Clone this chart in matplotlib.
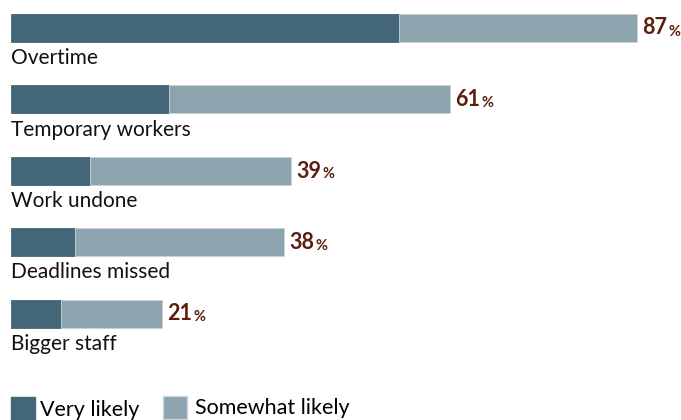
import matplotlib
matplotlib.use("Agg")
import matplotlib.pyplot as plt
from matplotlib.patches import Patch

categories = ["Overtime", "Temporary workers", "Work undone", "Deadlines missed", "Bigger staff"]
very_likely = [54, 22, 11, 9, 7]
totals = [87, 61, 39, 38, 21]
somewhat_likely = [t - v for t, v in zip(totals, very_likely)]
series_names = ["Very likely", "Somewhat likely"]

DARK = "#436678"
LIGHT = "#8da3ad"
EDGE_LIGHT = "#c9d3d8"
LABEL = "#5b1e0f"

plt.rcParams["font.family"] = ["Lato", "DejaVu Sans"]

W, H, DPI = 681, 420, 100
fig = plt.figure(figsize=(W / DPI, H / DPI), dpi=DPI)
ax = fig.add_axes([0, 0, 1, 1])

px_per_pct = 7.2
left_px = 10.5
row_px = 71.5
first_center_px = 27.5
ax.set_xlim(-left_px / px_per_pct, (W - left_px) / px_per_pct)
ax.set_ylim((H - first_center_px) / row_px, -first_center_px / row_px)
ax.axis("off")

ypos = list(range(len(categories)))
bar_h = 28 / row_px
ax.barh(ypos, very_likely, height=bar_h, color=DARK, edgecolor=DARK, linewidth=0.6)
ax.barh(ypos, somewhat_likely, left=very_likely, height=bar_h, color=LIGHT,
        edgecolor=EDGE_LIGHT, linewidth=0.6)

for y, name, tot in zip(ypos, categories, totals):
    ax.text(0, y + 36.5 / row_px, name, fontsize=15, color="#111111",
            ha="left", va="baseline")
    t = ax.text(tot + 5.5 / px_per_pct, y + 7 / row_px, str(tot), fontsize=15.5,
                fontweight="bold", color=LABEL, ha="left", va="baseline")
    ax.annotate("%", xycoords=t, xy=(1, 0), xytext=(0.6, 0), textcoords="offset points",
                fontsize=10.5, fontweight="bold", color=LABEL, ha="left", va="bottom")

# legend: one entry per block, anchored in figure pixels; swatches run off the bottom edge
LEG_FS = 15.5
fs_px = LEG_FS * DPI / 72
handles = [Patch(facecolor=DARK, edgecolor=DARK), Patch(facecolor=LIGHT, edgecolor=EDGE_LIGHT)]
for handle, label, x_px, top_px, pad_px in zip(handles, series_names, [10.5, 163],
                                                [397, 395.5], [5, 8]):
    fig.legend([handle], [label], loc="upper left",
               bbox_to_anchor=(x_px / W, 1 - top_px / H), frameon=False,
               fontsize=LEG_FS, handlelength=24 / fs_px, handleheight=28 / fs_px,
               handletextpad=pad_px / fs_px, borderaxespad=0, borderpad=0)

fig.savefig("out.png", dpi=DPI)
